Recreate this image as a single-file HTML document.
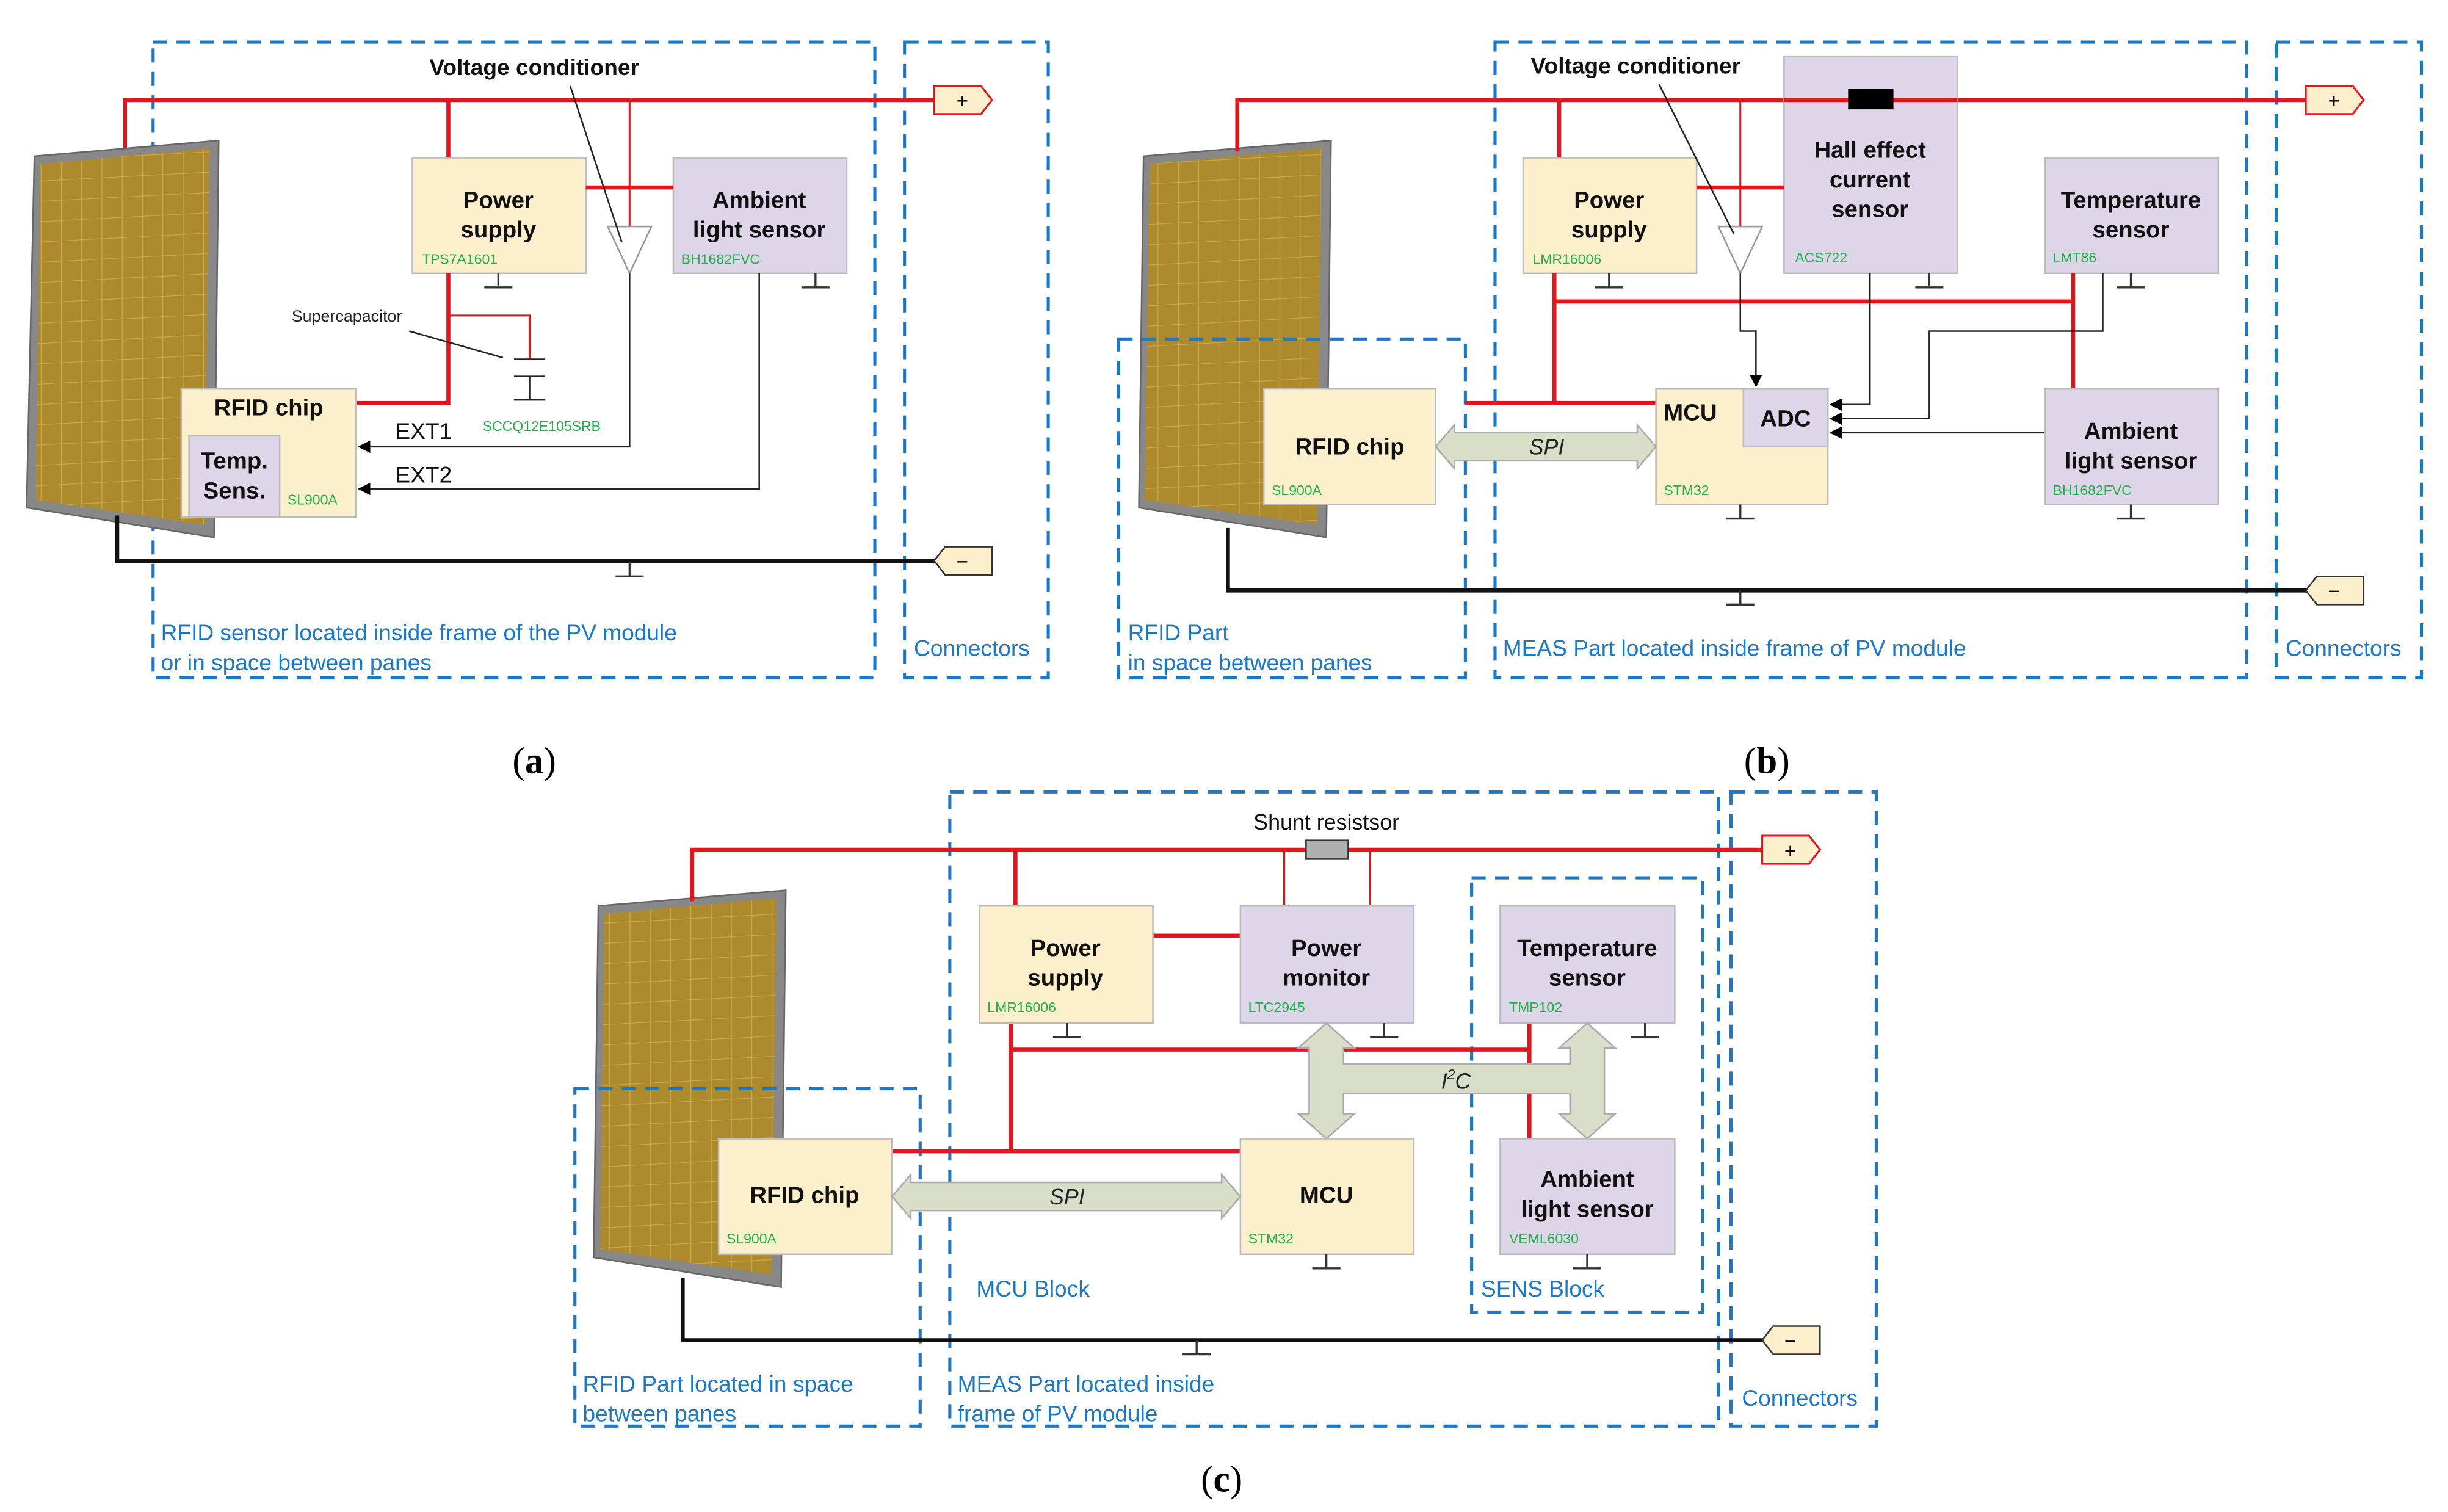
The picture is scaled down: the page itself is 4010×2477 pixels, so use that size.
<!DOCTYPE html>
<html><head><meta charset="utf-8"><style>html,body{margin:0;padding:0;background:#fff}svg{display:block}</style></head><body>
<svg xmlns="http://www.w3.org/2000/svg" width="4010" height="2477" viewBox="0 0 1567 968" preserveAspectRatio="none" font-family="Liberation Sans, Arial, sans-serif">
<defs>
<pattern id="grid" width="13" height="13" patternUnits="userSpaceOnUse" patternTransform="skewY(-3)">
<rect width="13" height="13" fill="#ad8a2c"/><path d="M0 0H13M0 0V13" stroke="#c8a84e" stroke-width="1"/></pattern>
<marker id="ar" markerWidth="8" markerHeight="8" refX="7" refY="4" orient="auto" markerUnits="userSpaceOnUse"><path d="M0,0L8,4L0,8Z" fill="#000"/></marker>
</defs>
<style>
.bx{stroke:#bbb;stroke-width:1}
.ye{fill:#fcefcc}
.pu{fill:#ddd6e8}
.t{font-weight:bold;font-size:15px;text-anchor:middle;fill:#111}
.g{font-size:9px;fill:#1fb04a}
.bl{font-size:14.5px;fill:#1a78c8}
.dash{fill:none;stroke:#1a78c8;stroke-width:2;stroke-dasharray:9,6}
.R{stroke:#e8141c;stroke-width:2.6;fill:none}
.r{stroke:#e8141c;stroke-width:1.2;fill:none}
.k{stroke:#111;stroke-width:2.6;fill:none}
.s{stroke:#222;stroke-width:1;fill:none}
.gnd{stroke:#333;stroke-width:1.3;fill:none}
.bus{fill:#d9dec9;stroke:#aaa;stroke-width:1}
</style>

<!-- ================= (a) ================= -->
<rect class="dash" x="98" y="27" width="462" height="407"/>
<rect class="dash" x="579" y="27" width="92" height="407"/>
<path class="R" d="M80 97V64H600"/>
<path d="M598 55H628L635 64L628 73H598Z" fill="#fcefcc" stroke="#e8141c" stroke-width="1.2"/>
<text x="616" y="69" font-size="13" text-anchor="middle">+</text>
<path d="M22 100L140 90L137 344L17 325Z" fill="#888" stroke="#666"/>
<path d="M26 105L134 95L131 336L23 320Z" fill="url(#grid)"/>
<path class="k" d="M75 330V359H600"/>
<path d="M635 350H605L598 359L605 368H635Z" fill="#fcefcc" stroke="#333" stroke-width="1"/>
<text x="616" y="364" font-size="13" text-anchor="middle">−</text>
<path class="gnd" d="M403 360V369M394 369H412"/>
<path class="R" d="M287 64V101"/>
<rect class="bx ye" x="264" y="101" width="111" height="74"/>
<text class="t" x="319" y="133">Power</text><text class="t" x="319" y="152">supply</text>
<text class="g" x="270" y="169">TPS7A1601</text>
<path class="gnd" d="M319 175V184M310 184H328"/>
<rect class="bx pu" x="431" y="101" width="111" height="74"/>
<text class="t" x="486" y="133">Ambient</text><text class="t" x="486" y="152">light sensor</text>
<text class="g" x="436" y="169">BH1682FVC</text>
<path class="gnd" d="M522 175V184M513 184H531"/>
<path class="R" d="M375 120H431"/>
<path class="r" d="M403 64V145"/>
<path d="M389 145H417L403 175Z" fill="#fff" stroke="#999"/>
<text x="342" y="48" font-size="14.5" font-weight="bold" text-anchor="middle" fill="#111">Voltage conditioner</text>
<path class="s" d="M365 55L398 155"/>
<path class="R" d="M287 175V258H228"/>
<path class="r" d="M287 202H339V230"/>
<path class="s" d="M329 230H349M329 241H349M339 241V256M329 256H349"/>
<text x="222" y="206" font-size="10.5" text-anchor="middle" fill="#222">Supercapacitor</text>
<path class="s" d="M262 212L322 229"/>
<text class="g" x="309" y="276">SCCQ12E105SRB</text>
<rect class="bx ye" x="116" y="249" width="112" height="82"/>
<text class="t" x="172" y="266">RFID chip</text>
<rect class="bx pu" x="121" y="279" width="58" height="52"/>
<text class="t" x="150" y="300">Temp.</text><text class="t" x="150" y="319">Sens.</text>
<text class="g" x="184" y="323">SL900A</text>
<path class="s" d="M403 175V286H230" marker-end="url(#ar)"/>
<path class="s" d="M486 175V313H230" marker-end="url(#ar)"/>
<text x="253" y="281" font-size="14.5" fill="#111">EXT1</text>
<text x="253" y="309" font-size="14.5" fill="#111">EXT2</text>
<text class="bl" x="103" y="410">RFID sensor located inside frame of the PV module</text>
<text class="bl" x="103" y="429">or in space between panes</text>
<text class="bl" x="585" y="420">Connectors</text>
<text x="342" y="495" font-size="24" text-anchor="middle" font-family="Liberation Serif, serif">(<tspan font-weight="bold">a</tspan>)</text>

<!-- ================= (b) ================= -->
<rect class="dash" x="957" y="27" width="481" height="407"/>
<rect class="dash" x="1457" y="27" width="93" height="407"/>
<path d="M732 100L852 90L849 344L729 325Z" fill="#888" stroke="#666"/>
<path d="M736 105L846 95L843 336L733 320Z" fill="url(#grid)"/>
<rect class="dash" x="716" y="217" width="222" height="217"/>
<path class="R" d="M792 97V64H1478"/>
<path d="M1476 55H1506L1513 64L1506 73H1476Z" fill="#fcefcc" stroke="#e8141c" stroke-width="1.2"/>
<text x="1494" y="69" font-size="13" text-anchor="middle">+</text>
<path class="k" d="M786 338V378H1478"/>
<path d="M1513 369H1483L1476 378L1483 387H1513Z" fill="#fcefcc" stroke="#333" stroke-width="1"/>
<text x="1494" y="383" font-size="13" text-anchor="middle">−</text>
<path class="gnd" d="M1114 378V387M1105 387H1123"/>
<rect class="bx pu" x="1142" y="36" width="111" height="139"/>
<path class="R" d="M1142 64H1253"/>
<rect x="1183" y="57" width="29" height="13" fill="#000"/>
<text class="t" x="1197" y="101">Hall effect</text><text class="t" x="1197" y="120">current</text><text class="t" x="1197" y="139">sensor</text>
<text class="g" x="1149" y="168">ACS722</text>
<path class="gnd" d="M1235 175V184M1226 184H1244"/>
<path class="R" d="M998 64V101"/>
<rect class="bx ye" x="975" y="101" width="111" height="74"/>
<text class="t" x="1030" y="133">Power</text><text class="t" x="1030" y="152">supply</text>
<text class="g" x="981" y="169">LMR16006</text>
<path class="gnd" d="M1030 175V184M1021 184H1039"/>
<path class="R" d="M1086 120H1142"/>
<path class="r" d="M1114 64V145"/>
<path d="M1100 145H1128L1114 175Z" fill="#fff" stroke="#999"/>
<text x="1047" y="47" font-size="14.5" font-weight="bold" text-anchor="middle" fill="#111">Voltage conditioner</text>
<path class="s" d="M1062 54L1110 150"/>
<rect class="bx pu" x="1309" y="101" width="111" height="74"/>
<text class="t" x="1364" y="133">Temperature</text><text class="t" x="1364" y="152">sensor</text>
<text class="g" x="1314" y="168">LMT86</text>
<path class="gnd" d="M1364 175V184M1355 184H1373"/>
<path class="R" d="M995 175V258M995 193H1327M1327 175V249M938 258H1060"/>
<path class="s" d="M1114 175V212H1124V247" marker-end="url(#ar)"/>
<rect class="bx ye" x="1060" y="249" width="110" height="74"/>
<rect class="bx pu" x="1116" y="249" width="54" height="37"/>
<text class="t" x="1082" y="269">MCU</text>
<text class="t" x="1143" y="273">ADC</text>
<text class="g" x="1065" y="317">STM32</text>
<path class="gnd" d="M1114 323V332M1105 332H1123"/>
<path class="s" d="M1197 175V259H1172" marker-end="url(#ar)"/>
<path class="s" d="M1346 175V212H1235V268H1172" marker-end="url(#ar)"/>
<path class="s" d="M1309 277H1172" marker-end="url(#ar)"/>
<rect class="bx pu" x="1309" y="249" width="111" height="74"/>
<text class="t" x="1364" y="281">Ambient</text><text class="t" x="1364" y="300">light sensor</text>
<text class="g" x="1314" y="317">BH1682FVC</text>
<path class="gnd" d="M1364 323V332M1355 332H1373"/>
<rect class="bx ye" x="809" y="249" width="110" height="74"/>
<text class="t" x="864" y="291">RFID chip</text>
<text class="g" x="814" y="317">SL900A</text>
<path class="bus" d="M919 286L931 272V277H1048V272L1060 286L1048 300V295H931V300Z"/>
<text x="990" y="291" font-size="14" font-style="italic" text-anchor="middle" fill="#222">SPI</text>
<text class="bl" x="722" y="410">RFID Part</text>
<text class="bl" x="722" y="429">in space between panes</text>
<text class="bl" x="962" y="420">MEAS Part  located inside frame of PV module</text>
<text class="bl" x="1463" y="420">Connectors</text>
<text x="1131" y="495" font-size="24" text-anchor="middle" font-family="Liberation Serif, serif">(<tspan font-weight="bold">b</tspan>)</text>

<!-- ================= (c) ================= -->
<rect class="dash" x="608" y="507" width="492" height="406"/>
<rect class="dash" x="1108" y="507" width="93" height="406"/>
<path d="M383 580L503 570L500 824L380 805Z" fill="#888" stroke="#666"/>
<path d="M387 585L497 575L494 816L384 800Z" fill="url(#grid)"/>
<rect class="dash" x="368" y="697" width="221" height="216"/>
<rect class="dash" x="942" y="562" width="148" height="278"/>
<path class="R" d="M443 577V544H1130"/>
<rect x="836" y="538" width="27" height="12" fill="#b0b0b0" stroke="#333"/>
<text x="849" y="531" font-size="14" text-anchor="middle" fill="#111">Shunt resistsor</text>
<path d="M1128 535H1158L1165 544L1158 553H1128Z" fill="#fcefcc" stroke="#e8141c" stroke-width="1.2"/>
<text x="1146" y="549" font-size="13" text-anchor="middle">+</text>
<path class="k" d="M437 818V858H1130"/>
<path d="M1165 849H1135L1128 858L1135 867H1165Z" fill="#fcefcc" stroke="#333" stroke-width="1"/>
<text x="1146" y="863" font-size="13" text-anchor="middle">−</text>
<path class="gnd" d="M766 858V867M757 867H775"/>
<path class="R" d="M650 544V580M738 599H794M647 655V737M647 672H979M979 655V729M570 737H794"/>
<path class="r" d="M822 544V580M877 544V580"/>
<rect class="bx ye" x="627" y="580" width="111" height="75"/>
<text class="t" x="682" y="612">Power</text><text class="t" x="682" y="631">supply</text>
<text class="g" x="632" y="648">LMR16006</text>
<path class="gnd" d="M683 655V664M674 664H692"/>
<rect class="bx pu" x="794" y="580" width="111" height="75"/>
<text class="t" x="849" y="612">Power</text><text class="t" x="849" y="631">monitor</text>
<text class="g" x="799" y="648">LTC2945</text>
<path class="gnd" d="M886 655V664M877 664H895"/>
<rect class="bx pu" x="960" y="580" width="112" height="75"/>
<text class="t" x="1016" y="612">Temperature</text><text class="t" x="1016" y="631">sensor</text>
<text class="g" x="966" y="648">TMP102</text>
<path class="gnd" d="M1053 655V664M1044 664H1062"/>
<path class="bus" d="M849 655L867 671H860V681H1005V671H998L1016 655L1034 671H1027V713H1034L1016 729L998 713H1005V700H860V713H867L849 729L831 713H838V671H831Z"/>
<text x="932" y="697" font-size="14" font-style="italic" text-anchor="middle" fill="#222">I<tspan font-size="9" dy="-6">2</tspan><tspan dy="6">C</tspan></text>
<rect class="bx ye" x="794" y="729" width="111" height="74"/>
<text class="t" x="849" y="770">MCU</text>
<text class="g" x="799" y="796">STM32</text>
<path class="gnd" d="M849 803V812M840 812H858"/>
<rect class="bx pu" x="960" y="729" width="112" height="74"/>
<text class="t" x="1016" y="760">Ambient</text><text class="t" x="1016" y="779">light sensor</text>
<text class="g" x="966" y="796">VEML6030</text>
<path class="gnd" d="M1016 803V812M1007 812H1025"/>
<rect class="bx ye" x="460" y="729" width="111" height="74"/>
<text class="t" x="515" y="770">RFID chip</text>
<text class="g" x="465" y="796">SL900A</text>
<path class="bus" d="M571 766L583 752V757H782V752L794 766L782 780V775H583V780Z"/>
<text x="683" y="771" font-size="14" font-style="italic" text-anchor="middle" fill="#222">SPI</text>
<text class="bl" x="625" y="830">MCU Block</text>
<text class="bl" x="948" y="830">SENS Block</text>
<text class="bl" x="373" y="891">RFID Part located in space</text>
<text class="bl" x="373" y="910">between panes</text>
<text class="bl" x="613" y="891">MEAS Part located inside</text>
<text class="bl" x="613" y="910">frame of PV module</text>
<text class="bl" x="1115" y="900">Connectors</text>
<text x="782" y="955" font-size="24" text-anchor="middle" font-family="Liberation Serif, serif">(<tspan font-weight="bold">c</tspan>)</text>
</svg>
</body></html>
